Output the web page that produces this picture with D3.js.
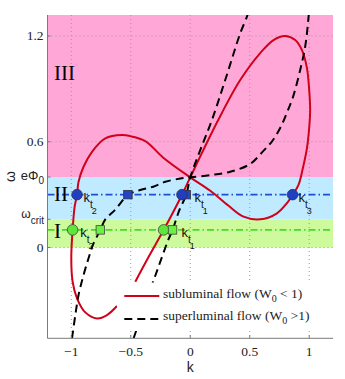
<!DOCTYPE html>
<html>
<head>
<meta charset="utf-8">
<script src="https://cdn.jsdelivr.net/npm/d3@7"></script>
<style>
  body { margin: 0; background: #fff; }
</style>
</head>
<body>
<div id="chart"></div>
<script>
// axis ticks
const xTicks = [-1, -0.5, 0, 0.5, 1];
const xTickLabels = ["\u22121", "\u22120.5", "0", "0.5", "1"];
const yTicks = [0, 0.6, 1.2];
const yTickLabels = ["0", "0.6", "1.2"];

// frequency levels
const ePhi0 = 0.4;
const omegaCrit = 0.16;
const omegaII = 0.3;
const omegaI = 0.1;

// subluminal flow, one continuous branch [k, omega]
const subluminal = [
  [-0.462, -0.194], [-0.345, -0.047], [-0.224, 0.099], [-0.07, 0.298], [0, 0.398],
  [0.235, 0.723], [0.42, 0.95], [0.588, 1.103], [0.70, 1.177], [0.798, 1.2],
  [0.882, 1.177], [0.939, 1.12], [0.981, 1.018], [1.0, 0.893], [1.008, 0.78],
  [1.0, 0.68], [0.981, 0.564], [0.947, 0.451], [0.91, 0.355], [0.86, 0.298],
  [0.813, 0.252], [0.729, 0.194], [0.588, 0.16], [0.448, 0.175], [0.32, 0.238],
  [0.168, 0.322], [0, 0.398], [-0.224, 0.508], [-0.378, 0.604], [-0.504, 0.632],
  [-0.574, 0.638], [-0.714, 0.619], [-0.826, 0.543], [-0.897, 0.458], [-0.939, 0.373],
  [-0.952, 0.298], [-0.972, 0.231], [-0.989, 0.099], [-1.0, -0.061], [-0.989, -0.194],
  [-0.952, -0.288], [-0.882, -0.368], [-0.784, -0.402], [-0.7, -0.383], [-0.616, -0.332]
];

// superluminal flow, two branches
const superA = [
  [-0.994, -0.515], [-0.966, -0.383], [-0.939, -0.269], [-0.897, -0.156], [-0.855, -0.061],
  [-0.813, 0.024], [-0.756, 0.099], [-0.714, 0.16], [-0.63, 0.215], [-0.524, 0.298],
  [-0.42, 0.326], [-0.311, 0.345], [-0.21, 0.373], [-0.084, 0.391], [0, 0.398],
  [0.168, 0.411], [0.336, 0.43], [0.504, 0.474], [0.613, 0.547], [0.689, 0.604],
  [0.756, 0.678], [0.815, 0.769], [0.866, 0.859], [0.924, 1.007], [0.966, 1.139],
  [0.996, 1.319], [1.0, 1.36]
];
const superB = [
  [-0.476, -0.515], [-0.378, -0.32], [-0.277, -0.128], [-0.185, 0.043], [-0.149, 0.099],
  [-0.09, 0.215], [-0.034, 0.298], [0, 0.398], [0.084, 0.553], [0.182, 0.723],
  [0.294, 0.95], [0.42, 1.215], [0.481, 1.319], [0.49, 1.36]
];

// turning points
const circlesII = [-0.952, -0.07, 0.86];
const squaresII = [-0.524, -0.034];
const circlesI = [-0.989, -0.224];
const squaresI = [-0.756, -0.149];
const labelsII = [{k: -0.952, n: "2", dk: 0.055}, {k: -0.034, n: "1", dk: 0.07}, {k: 0.86, n: "3", dk: 0.05}];
const labelsI = [{k: -0.989, n: "2", dk: 0.065}, {k: -0.149, n: "1", dk: 0.075}];

const W = 345, H = 379;
const x = d3.scaleLinear().domain([-1.2, 1.2]).range([47.5, 333]);
const y = d3.scaleLinear().domain([-0.515, 1.319]).range([338.3, 15]);

const serif = "'Liberation Serif', 'Times New Roman', serif";
const sans = "'Liberation Sans', Arial, sans-serif";

const svg = d3.select("#chart").append("svg")
  .attr("width", W).attr("height", H);

svg.append("defs").append("clipPath").attr("id", "plot")
  .append("rect")
  .attr("x", x(-1.2)).attr("y", y(1.319))
  .attr("width", x(1.2) - x(-1.2)).attr("height", y(-0.515) - y(1.319));

// bands
const bands = [
  {lo: ePhi0, hi: 1.319, fill: "#ffa8d8"},
  {lo: omegaCrit, hi: ePhi0, fill: "#bfeaff"},
  {lo: 0, hi: omegaCrit, fill: "#ccfa9c"}
];
svg.append("g").selectAll("rect").data(bands).join("rect")
  .attr("x", x(-1.2)).attr("width", x(1.2) - x(-1.2))
  .attr("y", d => y(d.hi)).attr("height", d => y(d.lo) - y(d.hi))
  .attr("fill", d => d.fill);

// grid
const grid = svg.append("g").attr("stroke", "#9a9a9a").attr("stroke-width", 1)
  .attr("stroke-dasharray", "1,3");
grid.selectAll(".gx").data(xTicks).join("line")
  .attr("x1", d => x(d)).attr("x2", d => x(d))
  .attr("y1", y(1.319)).attr("y2", y(-0.515));
grid.selectAll(".gy").data(yTicks).join("line")
  .attr("x1", x(-1.2)).attr("x2", x(1.2))
  .attr("y1", d => y(d)).attr("y2", d => y(d));

// dash-dot levels
svg.append("line")
  .attr("x1", x(-1.2)).attr("x2", x(1.2)).attr("y1", y(omegaII)).attr("y2", y(omegaII))
  .attr("stroke", "#1f4fd0").attr("stroke-width", 1.6).attr("stroke-dasharray", "7,3,1.5,3");
svg.append("line")
  .attr("x1", x(-1.2)).attr("x2", x(1.2)).attr("y1", y(omegaI)).attr("y2", y(omegaI))
  .attr("stroke", "#44dd22").attr("stroke-width", 1.6).attr("stroke-dasharray", "7,3,1.5,3");

// curves
const line = d3.line().x(d => x(d[0])).y(d => y(d[1])).curve(d3.curveCatmullRom.alpha(0.5));
const curves = svg.append("g").attr("clip-path", "url(#plot)").attr("fill", "none");
curves.append("path").attr("d", line(subluminal))
  .attr("stroke", "#d0021b").attr("stroke-width", 2);
curves.selectAll(".sup").data([superA, superB]).join("path")
  .attr("d", line)
  .attr("stroke", "#000").attr("stroke-width", 2).attr("stroke-dasharray", "8,5");

// markers
const sq = 8.5;
svg.append("g").selectAll("rect").data(squaresII).join("rect")
  .attr("x", d => x(d) - sq / 2).attr("y", y(omegaII) - sq / 2)
  .attr("width", sq).attr("height", sq)
  .attr("fill", "#2344c4").attr("stroke", "#333").attr("stroke-width", 0.8);
svg.append("g").selectAll("circle").data(circlesII).join("circle")
  .attr("cx", d => x(d)).attr("cy", y(omegaII)).attr("r", 5.3)
  .attr("fill", "#1f3fc0").attr("stroke", "#334").attr("stroke-width", 0.8);
svg.append("g").selectAll("circle").data(circlesI).join("circle")
  .attr("cx", d => x(d)).attr("cy", y(omegaI)).attr("r", 5.3)
  .attr("fill", "#5fe63a").attr("stroke", "#444").attr("stroke-width", 0.8);
svg.append("g").selectAll("rect").data(squaresI).join("rect")
  .attr("x", d => x(d) - sq / 2).attr("y", y(omegaI) - sq / 2)
  .attr("width", sq).attr("height", sq)
  .attr("fill", "#6cf046").attr("stroke", "#444").attr("stroke-width", 0.8);

// k_t labels
function ktLabel(g, d, level) {
  const t = g.append("text").attr("font-family", sans).attr("fill", "#111")
    .attr("x", x(d.k + d.dk)).attr("y", y(level) + 7.5);
  t.append("tspan").attr("font-size", 13).text("k");
  t.append("tspan").attr("font-size", 10).attr("dy", 6).text("t");
  t.append("tspan").attr("font-size", 9).attr("dy", 6).attr("dx", -1).text(d.n);
}
const lab = svg.append("g");
labelsII.forEach(d => ktLabel(lab, d, omegaII));
labelsI.forEach(d => ktLabel(lab, d, omegaI));

// region numerals
const romans = [{t: "III", w: 0.95}, {t: "II", w: 0.264}, {t: "I", w: 0.054}];
svg.append("g").selectAll("text").data(romans).join("text")
  .attr("x", x(-1.146)).attr("y", d => y(d.w))
  .attr("font-family", serif).attr("font-size", 21).attr("fill", "#000")
  .text(d => d.t);

// legend
const lg = svg.append("g");
lg.append("rect").attr("x", 117).attr("y", 282.5).attr("width", 196).attr("height", 48.5)
  .attr("fill", "#fff");
lg.append("line").attr("x1", 124.3).attr("x2", 159.3).attr("y1", 296).attr("y2", 296)
  .attr("stroke", "#d0021b").attr("stroke-width", 2);
lg.append("line").attr("x1", 124.3).attr("x2", 159.3).attr("y1", 319).attr("y2", 319)
  .attr("stroke", "#000").attr("stroke-width", 2).attr("stroke-dasharray", "8,5");
const legendText = [
  {a: "subluminal flow (W", b: " < 1)", yy: 297.5},
  {a: "superluminal flow (W", b: " >1)", yy: 319.5}
];
legendText.forEach(d => {
  const t = lg.append("text").attr("x", 163).attr("y", d.yy)
    .attr("font-family", serif).attr("font-size", 13.5).attr("fill", "#222");
  t.append("tspan").text(d.a);
  t.append("tspan").attr("font-size", 10).attr("dy", 4).text("0");
  t.append("tspan").attr("dy", -4).text(d.b);
});

// axes
const ax = svg.append("g").attr("stroke", "#7a7a7a").attr("stroke-width", 1);
ax.append("line").attr("x1", x(-1.2)).attr("x2", x(-1.2)).attr("y1", y(1.319)).attr("y2", y(-0.515));
ax.append("line").attr("x1", x(-1.2)).attr("x2", x(1.2)).attr("y1", y(-0.515)).attr("y2", y(-0.515));
ax.selectAll(".tx").data(xTicks).join("line")
  .attr("x1", d => x(d)).attr("x2", d => x(d))
  .attr("y1", y(-0.515)).attr("y2", y(-0.515) - 3);
ax.selectAll(".ty").data(yTicks.concat([omegaCrit, ePhi0])).join("line")
  .attr("x1", x(-1.2)).attr("x2", x(-1.2) + 3)
  .attr("y1", d => y(d)).attr("y2", d => y(d));

svg.append("g").selectAll("text").data(xTicks).join("text")
  .attr("x", d => x(d)).attr("y", 356)
  .attr("text-anchor", "middle")
  .attr("font-family", serif).attr("font-size", 13.5).attr("fill", "#222")
  .text((d, i) => xTickLabels[i]);
svg.append("g").selectAll("text").data(yTicks).join("text")
  .attr("x", 43.5).attr("y", d => y(d) + 4.5)
  .attr("text-anchor", "end")
  .attr("font-family", serif).attr("font-size", 13.5).attr("fill", "#222")
  .text((d, i) => yTickLabels[i]);

// special y tick labels
const tPhi = svg.append("text").attr("x", 44).attr("y", y(ePhi0) + 2.5)
  .attr("text-anchor", "end").attr("font-family", sans).attr("fill", "#222");
tPhi.append("tspan").attr("font-size", 13).text("e\u03A6");
tPhi.append("tspan").attr("font-size", 10).attr("dy", 4).text("0");

const tCrit = svg.append("text").attr("x", 44).attr("y", y(omegaCrit) - 1)
  .attr("text-anchor", "end").attr("font-family", sans).attr("fill", "#222");
tCrit.append("tspan").attr("font-size", 12).text("\u03C9");
tCrit.append("tspan").attr("font-size", 10).attr("dy", 5.5).text("crit");

// axis titles
svg.append("text").attr("x", x(0)).attr("y", 371.5)
  .attr("text-anchor", "middle").attr("font-family", sans).attr("font-size", 14)
  .attr("fill", "#222").text("k");
svg.append("text")
  .attr("transform", `translate(15,${(y(1.319) + y(-0.515)) / 2}) rotate(-90)`)
  .attr("text-anchor", "middle").attr("font-family", sans).attr("font-size", 14)
  .attr("fill", "#222").text("\u03C9");
</script>
</body>
</html>
